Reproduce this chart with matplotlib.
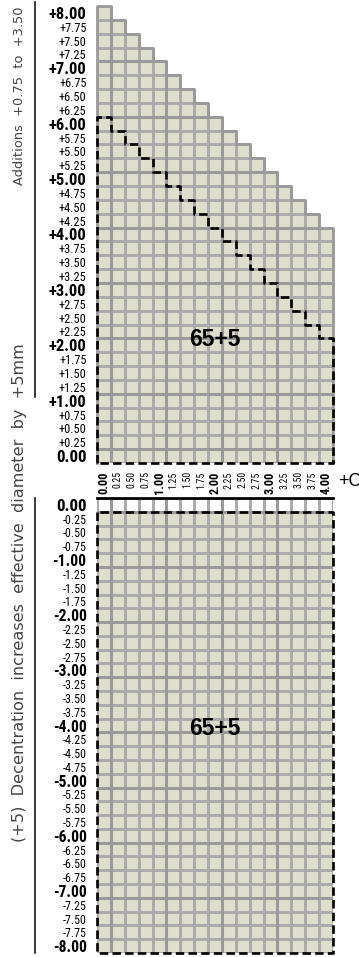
import numpy as np
import matplotlib
matplotlib.use('Agg')
import matplotlib.pyplot as plt
from matplotlib.colors import ListedColormap
from matplotlib import font_manager

# column values (cylinder) and row values (additions / minus side)
cyl = [0.00, 0.25, 0.50, 0.75, 1.00, 1.25, 1.50, 1.75, 2.00, 2.25, 2.50, 2.75,
       3.00, 3.25, 3.50, 3.75, 4.00]
plus_rows = [8.00, 7.75, 7.50, 7.25, 7.00, 6.75, 6.50, 6.25, 6.00, 5.75, 5.50,
             5.25, 5.00, 4.75, 4.50, 4.25, 4.00, 3.75, 3.50, 3.25, 3.00, 2.75,
             2.50, 2.25, 2.00, 1.75, 1.50, 1.25, 1.00, 0.75, 0.50, 0.25, 0.00]
minus_rows = [0.00, -0.25, -0.50, -0.75, -1.00, -1.25, -1.50, -1.75, -2.00,
              -2.25, -2.50, -2.75, -3.00, -3.25, -3.50, -3.75, -4.00, -4.25,
              -4.50, -4.75, -5.00, -5.25, -5.50, -5.75, -6.00, -6.25, -6.50,
              -6.75, -7.00, -7.25, -7.50, -7.75, -8.00]
# highest row of the grid in each column (top panel)
grid_top = [8.00, 7.75, 7.50, 7.25, 7.00, 6.75, 6.50, 6.25, 6.00, 5.75, 5.50,
            5.25, 5.00, 4.75, 4.50, 4.25, 4.00]
# highest available row in each column (dashed range, top panel)
range_top = [6.00, 5.75, 5.50, 5.25, 5.00, 4.75, 4.50, 4.25, 4.00, 3.75, 3.50,
             3.25, 3.00, 2.75, 2.50, 2.25, 2.00]
# bottom panel: filled rows go from -0.25 down to -8.00 in every column
minus_fill_top = [-0.25] * 17
product = '65+5'
side_note_top = 'Additions  +0.75  to  +3.50'
side_note_bottom = '(+5)  Decentration  increases  effective  diameter  by  +5mm'
cyl_axis_name = '+Cyl'

FILL = '#dddfcc'
THIN = '#ababab'
THICK = '#9a9a9a'

# pick a narrow face for the tick labels if one is installed
fl = font_manager.fontManager.ttflist
names = {f.name for f in fl}
NARROW, STRETCH = 'DejaVu Sans', 'normal'
for n in ['Liberation Sans Narrow', 'Roboto Condensed', 'Open Sans Condensed',
          'Noto Sans Condensed']:
    if n in names:
        NARROW = n
        break
else:
    for n in ['DejaVu Sans', 'Noto Sans', 'Open Sans', 'Roboto']:
        if any(f.name == n and 'condensed' in str(f.stretch) for f in fl):
            NARROW, STRETCH = n, 'condensed'
            break
plt.rcParams['font.family'] = ['Liberation Sans', 'DejaVu Sans']

W, H = 359, 957
fig = plt.figure(figsize=(W / 100, H / 100), dpi=100)
renderer = fig.canvas.get_renderer()


def px_axes(left, top, right, bottom):
    return fig.add_axes([left / W, 1 - bottom / H, (right - left) / W, (bottom - top) / H])


def fit(t, target, along='width'):
    # scale a text so that it spans the given number of pixels
    fs = t.get_fontsize()
    ext = t.get_window_extent(renderer)
    size = ext.width if along == 'width' else ext.height
    t.set_fontsize(fs * target / size)


h = 0.125
xe = np.append(np.array(cyl) - h, cyl[-1] + h)


def fmt(v, plus):
    s = '%.2f' % abs(v)
    if v > 0 and plus:
        s = '+' + s
    elif v < 0:
        s = '-' + s
    return s


def style_ticks(ax, rows, plus):
    ax.set_yticks(rows)
    labs = ax.set_yticklabels([fmt(r, plus) for r in rows])
    for r, t in zip(rows, labs):
        t.set_family(NARROW)
        t.set_stretch(STRETCH)
        if r == int(r):
            t.set_fontweight('bold')
            t.set_fontsize(10)
            fit(t, 38 if (plus and r != 0) else 31 if r == 0 else 34)
        else:
            t.set_fontsize(7)
            fit(t, 28 if plus else 24)
    ax.tick_params(axis='y', length=0, pad=7.5)
    for s in ax.spines.values():
        s.set_visible(False)


def grid_columns(ax, ye, rows, tops, colors):
    for c, top in enumerate(tops):
        n = sum(1 for r in rows if r <= top + 1e-9)
        ax.pcolormesh(xe[c:c + 2], ye[:n + 1], np.arange(n).reshape(n, 1) * 0 + 1,
                      cmap=ListedColormap([FILL]), edgecolors=THIN, linewidth=0.9,
                      zorder=1)


# ---------------- top panel ----------------
ax1 = px_axes(97, 6, 333, 463)
rows_up = np.array(plus_rows[::-1])
ye = np.append(rows_up - h, rows_up[-1] + h)
grid_columns(ax1, ye, rows_up, grid_top, FILL)
# heavy lines every whole dioptre
for k in range(0, 8):
    cols = [c for c, t in enumerate(grid_top) if t >= k]
    ax1.plot([xe[0], xe[cols[-1] + 1]], [k + h, k + h], color=THICK, lw=2.2,
             zorder=2, solid_capstyle='butt')
for k in range(0, 4):
    c = cyl.index(float(k))
    ax1.plot([k + h, k + h], [-h, grid_top[c] + h], color=THICK, lw=2.2,
             zorder=2, solid_capstyle='butt')
# staircase outline
sx, sy = [xe[0]], [-h]
for c, t in enumerate(grid_top):
    sx += [xe[c], xe[c + 1]]
    sy += [t + h, t + h]
sx += [xe[-1]]
sy += [-h]
ax1.plot(sx, sy, color=THICK, lw=2.0, zorder=2, clip_on=False)
# dashed available range
dx, dy = [xe[0]], [-h]
for c, t in enumerate(range_top):
    dx += [xe[c], xe[c + 1]]
    dy += [t + h, t + h]
dx += [xe[-1], xe[0]]
dy += [-h, -h]
ax1.plot(dx, dy, color='black', lw=1.9, ls=(0, (3.2, 1.6)), zorder=3, clip_on=False)
ax1.text(2.0, 2.1, product, ha='center', va='center', fontsize=16.5,
         fontweight='bold', zorder=4)
ax1.set_xlim(xe[0], xe[-1])
ax1.set_ylim(-h, 8 + h)
style_ticks(ax1, plus_rows, True)
ax1.set_xticks(cyl)
xl = ax1.set_xticklabels(['%.2f' % v for v in cyl], rotation=90)
for v, t in zip(cyl, xl):
    t.set_family(NARROW)
    t.set_stretch(STRETCH)
    if v == int(v):
        t.set_fontweight('bold')
        t.set_fontsize(8.5)
        fit(t, 22, 'height')
    else:
        t.set_fontsize(6.5)
        fit(t, 17, 'height')
ax1.tick_params(axis='x', length=0, pad=6)

# ---------------- bottom panel ----------------
ax2 = px_axes(97, 498, 333, 953)
rows_dn = np.array(minus_rows[::-1])
ye2 = np.append(rows_dn - h, rows_dn[-1] + h)
grid_columns(ax2, ye2, rows_dn, minus_fill_top, FILL)
# the 0.00 row stays white
ax2.pcolormesh(xe, ye2[-2:], np.zeros((1, len(cyl))), cmap=ListedColormap(['white']),
               edgecolors=THIN, linewidth=0.9, zorder=1)
for k in range(0, 8):
    ax2.plot([xe[0], xe[-1]], [-k - h, -k - h], color=THICK, lw=2.2, zorder=2,
             solid_capstyle='butt')
for k in range(0, 4):
    ax2.plot([k + h, k + h], [-8 - h, h], color=THICK, lw=2.2, zorder=2,
             solid_capstyle='butt')
ax2.plot([xe[0], xe[-1]], [h, h], color='black', lw=2.0, zorder=3, clip_on=False)
ftop = minus_fill_top[0] + h
ax2.plot([xe[0], xe[0], xe[-1], xe[-1], xe[0]], [ftop, -8 - h, -8 - h, ftop, ftop],
         color='black', lw=1.9, ls=(0, (3.2, 1.6)), zorder=3, clip_on=False)
ax2.text(2.0, -4.05, product, ha='center', va='center', fontsize=16.5,
         fontweight='bold', zorder=4)
ax2.set_xlim(xe[0], xe[-1])
ax2.set_ylim(-8 - h, h)
ax2.set_xticks([])
style_ticks(ax2, minus_rows, False)

# ---------------- side notes ----------------
fig.add_artist(plt.Line2D([35 / W, 35 / W], [1 - 2 / H, 1 - 397 / H],
                          color='black', lw=1.1))
fig.add_artist(plt.Line2D([35 / W, 35 / W], [1 - 498 / H, 1 - 953 / H],
                          color='black', lw=1.1))
for txt, y0, y1 in [(side_note_top, 7, 185), (side_note_bottom, 343, 842)]:
    t = fig.text(20 / W, 1 - (y0 + y1) / 2 / H, txt, rotation=90, ha='center',
                 va='center', fontsize=10, color='#444444', family='DejaVu Sans')
    fit(t, y1 - y0, 'height')
fig.text(338 / W, 1 - 481 / H, cyl_axis_name, ha='left', va='center',
         fontsize=13, color='black')

fig.savefig('out.png', dpi=100)
